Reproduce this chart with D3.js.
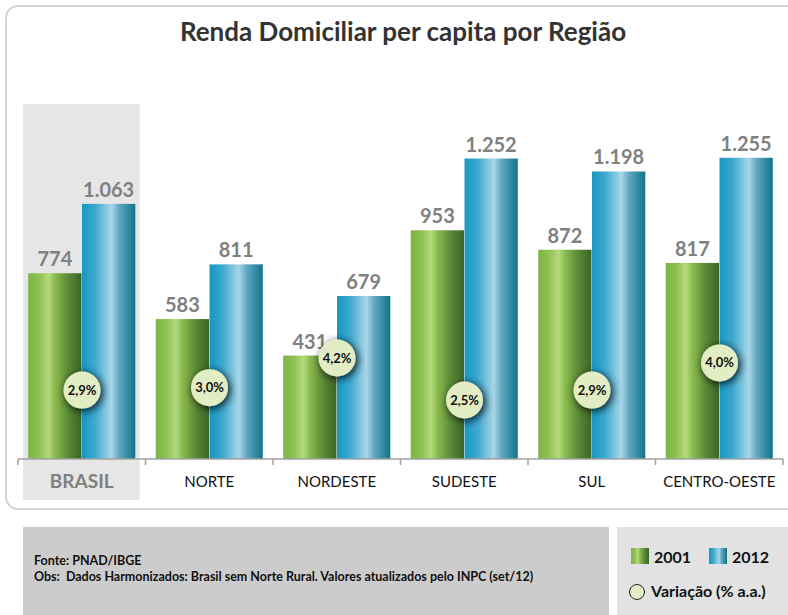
<!DOCTYPE html>
<html><head><meta charset="utf-8">
<script src="https://cdn.jsdelivr.net/npm/d3@7"></script>
<style>html,body{margin:0;padding:0;background:#fff;}</style>
</head><body>
<script>
const categories = ["BRASIL","NORTE","NORDESTE","SUDESTE","SUL","CENTRO-OESTE"];
const years = ["2001","2012"];
const values2001 = [774,583,431,953,872,817];
const values2012 = [1063,811,679,1252,1198,1255];
const variacao = [2.9,3.0,4.2,2.5,2.9,4.0];
const title = "Renda Domiciliar per capita por Região";
const fonte = "Fonte: PNAD/IBGE";
const obs = "Obs:  Dados Harmonizados: Brasil sem Norte Rural. Valores atualizados pelo INPC (set/12)";

const W=788,H=615;
const svg=d3.select("body").append("svg").attr("width",W).attr("height",H);
const defs=svg.append("defs");
function grad(id,stops){
  const g=defs.append("linearGradient").attr("id",id).attr("x1","0").attr("x2","1").attr("y1","0").attr("y2","0");
  stops.forEach(s=>g.append("stop").attr("offset",s[0]).attr("stop-color",s[1]));
}
grad("gGreen",[[0,"#7db446"],[0.2,"#8fc052"],[0.38,"#b4da7c"],[0.5,"#8cbb50"],[0.75,"#5a8a36"],[1,"#3b6428"]]);
grad("gBlue",[[0,"#1597c2"],[0.25,"#3fa9cf"],[0.55,"#a9d6e8"],[0.7,"#5ea7c0"],[1,"#117488"]]);
const f=defs.append("filter").attr("id","shadow").attr("x","-60%").attr("y","-60%").attr("width","220%").attr("height","220%");
f.append("feGaussianBlur").attr("in","SourceAlpha").attr("stdDeviation",4).attr("result","b");
f.append("feOffset").attr("in","b").attr("dx",2).attr("dy",2).attr("result","o");
f.append("feComponentTransfer").attr("in","o").attr("result","oc").append("feFuncA").attr("type","linear").attr("slope",0.9);
const fm=f.append("feMerge"); fm.append("feMergeNode").attr("in","oc"); fm.append("feMergeNode").attr("in","SourceGraphic");

const FONT="Lato, 'Open Sans', sans-serif";
const loc=d3.formatLocale({decimal:",",thousands:".",grouping:[3],currency:["R$",""]});
const fmtVal=loc.format(",d");
const fmtPct=v=>loc.format(".1f")(v)+"%";

// outer frame
svg.append("rect").attr("x",6).attr("y",6).attr("width",800).attr("height",503).attr("rx",12)
  .attr("fill","#fff").attr("stroke","#d4d4d4").attr("stroke-width",2);

const x=d3.scaleBand().domain(categories).range([18,783]).paddingInner(0).paddingOuter(0);
const xs=d3.scaleBand().domain(years).range([0,x.bandwidth()]).paddingOuter(0.19).paddingInner(0.01);
const y=d3.scaleLinear().domain([0,1300]).range([459,147]);
const yv=d3.scaleLinear().domain([2.5,4.2]).range([400,358]);

// Brasil highlight
svg.append("rect").attr("x",x("BRASIL")+5).attr("y",104).attr("width",x.bandwidth()-11).attr("height",396).attr("fill","#e6e6e6");

svg.append("text").attr("x",403).attr("y",41).attr("text-anchor","middle")
  .attr("font-family",FONT).attr("font-weight","bold").attr("font-size",26).attr("fill","#333").text(title);

const data=categories.map((c,i)=>({cat:c,vals:[values2001[i],values2012[i]],v:variacao[i]}));
const g=svg.selectAll("g.cat").data(data).enter().append("g").attr("transform",d=>`translate(${x(d.cat)},0)`);
years.forEach((yr,k)=>{
  g.append("rect").attr("x",xs(yr)).attr("width",xs.bandwidth())
    .attr("y",d=>y(d.vals[k])).attr("height",d=>y(0)-y(d.vals[k]))
    .attr("fill",k===0?"url(#gGreen)":"url(#gBlue)");
  g.append("text").attr("x",xs(yr)+xs.bandwidth()/2).attr("y",d=>y(d.vals[k])-7)
    .attr("text-anchor","middle").attr("font-family",FONT).attr("font-weight","bold").attr("font-size",20)
    .attr("fill","#808080").text(d=>fmtVal(d.vals[k]));
});
// axis
const axis=d3.axisBottom(x).tickSize(0).tickFormat("");
const ax=svg.append("g").attr("transform","translate(0,459)").call(axis);
ax.select(".domain").remove();
ax.append("line").attr("x1",18).attr("x2",783).attr("stroke","#a0a0a0").attr("stroke-width",1.5);
const bounds=categories.map(c=>x(c)).concat([x.range()[1]]);
ax.selectAll("line.tk").data(bounds).enter().append("line").attr("class","tk")
  .attr("x1",d=>d).attr("x2",d=>d).attr("y1",0).attr("y2",6).attr("stroke","#a0a0a0").attr("stroke-width",1.5);

g.append("text").attr("x",x.bandwidth()/2).attr("y",d=>d.cat==="BRASIL"?488:487).attr("text-anchor","middle")
  .attr("font-family",FONT).attr("font-size",d=>d.cat==="BRASIL"?19:15)
  .attr("font-weight",d=>d.cat==="BRASIL"?"bold":"normal")
  .attr("fill",d=>d.cat==="BRASIL"?"#7f7f7f":"#111").text(d=>d.cat);

// variation circles
const cx=xs("2012");
g.append("circle").attr("cx",cx).attr("cy",d=>yv(d.v)).attr("r",18.5)
  .attr("fill","#e3edc3").attr("filter","url(#shadow)");
g.append("text").attr("x",cx).attr("y",d=>yv(d.v)+4.5).attr("text-anchor","middle")
  .attr("font-family",FONT).attr("font-weight","bold").attr("font-size",13).attr("fill","#111").text(d=>fmtPct(d.v));

// footer
svg.append("rect").attr("x",23).attr("y",527).attr("width",586).attr("height",88).attr("fill","#cccccc");
svg.append("text").attr("x",34).attr("y",565).attr("font-family",FONT).attr("font-weight","bold").attr("font-size",12.5).attr("fill","#111").text(fonte);
svg.append("text").attr("x",34).attr("y",581).attr("font-family",FONT).attr("font-weight","bold").attr("font-size",12.5).attr("fill","#111").style("white-space","pre").text(obs);

// legend
svg.append("rect").attr("x",617).attr("y",527).attr("width",171).attr("height",88).attr("fill","#e2e2e2");
const leg=[{y:"2001",f:"url(#gGreen)",x:631},{y:"2012",f:"url(#gBlue)",x:709}];
leg.forEach(l=>{
  svg.append("rect").attr("x",l.x).attr("y",548).attr("width",18).attr("height",16).attr("fill",l.f);
  svg.append("text").attr("x",l.x+23).attr("y",563).attr("font-family",FONT).attr("font-weight","bold").attr("font-size",16).attr("fill","#111").text(l.y);
});
svg.append("circle").attr("cx",637).attr("cy",592).attr("r",7.5).attr("fill","#e3edc3").attr("stroke","#222").attr("stroke-width",1);
svg.append("text").attr("x",651).attr("y",597).attr("font-family",FONT).attr("font-weight","bold").attr("font-size",16).attr("fill","#111").text("Variação (% a.a.)");
</script>
</body></html>
